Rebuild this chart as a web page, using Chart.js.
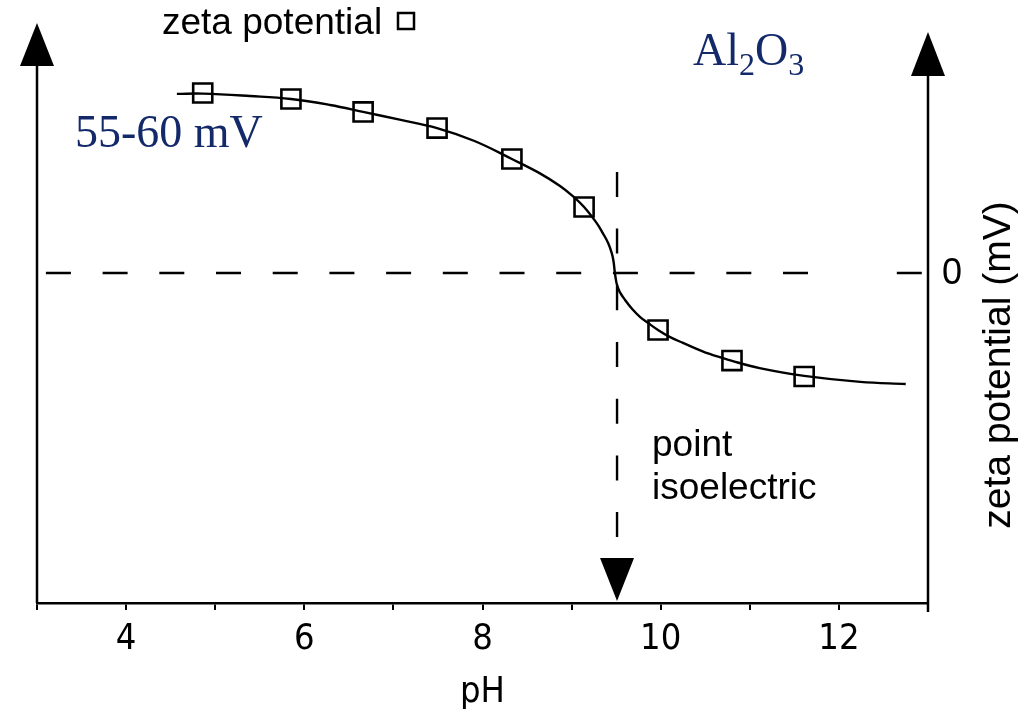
<!DOCTYPE html>
<html><head>
<meta charset="utf-8">
<script src="https://cdn.jsdelivr.net/npm/chart.js@4"></script>
<style>
  html, body { margin: 0; padding: 0; background: #fff; }
  canvas { display: block; }
</style>
</head>
<body>
<canvas id="chart" width="1019" height="714"></canvas>
<script>
// measured points: pH and zeta potential (mV)
const phPoints = [4.86, 5.85, 6.66, 7.49, 8.33, 9.14, 9.97, 10.80, 11.61];
const zetaPoints = [60.0, 58.0, 53.7, 48.3, 38.0, 22.0, -19.0, -29.2, -34.5];

// fitted curve
const curvePh = [4.57, 4.86, 5.39, 5.85, 6.29, 6.66, 7.07, 7.49, 7.91, 8.33, 8.64, 8.87, 9.01, 9.14, 9.28, 9.35, 9.41, 9.45, 9.47, 9.486,
  9.50, 9.51, 9.54, 9.60, 9.68, 9.77, 9.86, 9.97, 10.10, 10.25, 10.55, 10.80, 11.11, 11.61, 12.24, 12.75];
const curveZeta = [59.7, 59.8, 59.0, 58.0, 56.0, 53.7, 51.1, 48.3, 44.0, 38.0, 33.3, 29.0, 25.7, 22.0, 16.7, 13.3, 10.0, 6.7, 4.0, 0.0,
  -2.7, -4.0, -6.3, -9.0, -12.0, -14.7, -16.7, -19.0, -21.3, -23.3, -27.0, -29.3, -31.7, -34.3, -36.3, -37.0];

const xTickLabels = [4, 6, 8, 10, 12];
const yTickLabel = 0;

// dashed guides
const zeroLinePh = [3.1, 11.66, 12.2, 12.65, 12.94];
const zeroLineZeta = [0, 0, null, 0, 0];
const isoPh = 9.51;
const isoLineZeta = [33.7, -95];
const isoArrowTip = -109.3;

const sans = '"Liberation Sans", Arial, sans-serif';
const narrow = '"Liberation Sans Narrow", "DejaVu Sans Condensed", Arial, sans-serif';
const serif = '"Liberation Serif", "Times New Roman", serif';
const navy = '#13296a';

const decor = {
  id: 'decor',
  afterDatasetsDraw(chart) {
    const { ctx, chartArea: a, scales: { x, y } } = chart;
    ctx.save();
    ctx.strokeStyle = '#000';
    ctx.fillStyle = '#000';
    ctx.lineWidth = 2.5;

    function tri(cx, tipY, baseY, half) {
      ctx.beginPath();
      ctx.moveTo(cx, tipY);
      ctx.lineTo(cx - half, baseY);
      ctx.lineTo(cx + half, baseY);
      ctx.closePath();
      ctx.fill();
    }

    // left axis with arrow
    ctx.beginPath();
    ctx.moveTo(a.left, a.bottom);
    ctx.lineTo(a.left, 60);
    ctx.stroke();
    tri(a.left, 23, 66, 17);

    // right axis with arrow
    ctx.beginPath();
    ctx.moveTo(a.right, a.bottom + 9);
    ctx.lineTo(a.right, 70);
    ctx.stroke();
    tri(a.right, 32, 76, 17);

    // isoelectric arrow head
    const ix = x.getPixelForValue(isoPh);
    tri(ix, y.getPixelForValue(isoArrowTip), y.getPixelForValue(isoLineZeta[1]), 17);

    // right axis tick label
    ctx.font = '36px ' + sans;
    ctx.textBaseline = 'middle';
    ctx.textAlign = 'left';
    ctx.fillText(String(yTickLabel), a.right + 14, y.getPixelForValue(yTickLabel) + 1);

    // legend
    ctx.textBaseline = 'alphabetic';
    ctx.font = '37px ' + sans;
    ctx.fillText('zeta potential', 162, 34);
    ctx.lineWidth = 2.5;
    ctx.strokeRect(398, 13, 16, 16);

    // point isoelectric
    ctx.fillText('point', 652, 456);
    ctx.fillText('isoelectric', 652, 499);

    // right axis title
    ctx.save();
    ctx.translate(1010, 365);
    ctx.rotate(-Math.PI / 2);
    ctx.textAlign = 'center';
    ctx.font = '39px ' + sans;
    ctx.fillText('zeta potential (mV)', 0, 0);
    ctx.restore();

    // navy serif notes
    ctx.fillStyle = navy;
    ctx.font = '46px ' + serif;
    ctx.fillText('55-60 mV', 75, 147);

    let px = 693;
    const parts = [['Al', 46, 0], ['2', 32, 10], ['O', 46, 0], ['3', 32, 10]];
    parts.forEach(([t, s, dy]) => {
      ctx.font = s + 'px ' + serif;
      ctx.fillText(t, px, 65 + dy);
      px += ctx.measureText(t).width;
    });

    ctx.restore();
  }
};

const ctx = document.getElementById('chart').getContext('2d');
new Chart(ctx, {
  type: 'scatter',
  data: {
    datasets: [
      {
        label: 'curve',
        type: 'line',
        data: curvePh.map((v, i) => ({ x: v, y: curveZeta[i] })),
        borderColor: '#000',
        borderWidth: 2.4,
        pointRadius: 0,
        tension: 0.4,
        fill: false
      },
      {
        label: 'zeta potential',
        data: phPoints.map((v, i) => ({ x: v, y: zetaPoints[i] })),
        pointStyle: 'rect',
        pointRadius: 13.5,
        borderColor: '#000',
        borderWidth: 2.6,
        backgroundColor: 'rgba(0,0,0,0)',
        showLine: false
      },
      {
        label: 'zero',
        type: 'line',
        data: zeroLinePh.map((v, i) => ({ x: v, y: zeroLineZeta[i] })),
        borderColor: '#000',
        borderWidth: 2.4,
        borderDash: [25, 31.7],
        pointRadius: 0,
        spanGaps: false
      },
      {
        label: 'isoelectric',
        type: 'line',
        data: isoLineZeta.map(v => ({ x: isoPh, y: v })),
        borderColor: '#000',
        borderWidth: 2.4,
        borderDash: [25, 31.7],
        pointRadius: 0
      }
    ]
  },
  options: {
    responsive: false,
    animation: false,
    layout: { padding: { left: 37, top: 23, right: 91, bottom: 0 } },
    plugins: { legend: { display: false }, tooltip: { enabled: false } },
    scales: {
      x: {
        type: 'linear',
        min: 3,
        max: 13,
        ticks: {
          stepSize: 1,
          autoSkip: false,
          maxRotation: 0,
          padding: 8,
          color: '#000',
          font: { family: narrow, size: 36 },
          callback: v => xTickLabels.includes(v) ? String(v) : ''
        },
        grid: { drawOnChartArea: false, drawTicks: true, tickLength: 7, color: '#000', lineWidth: 2 },
        border: { display: true, color: '#000', width: 2.5 },
        title: { display: true, text: 'pH', color: '#000', font: { family: narrow, size: 36 }, padding: { top: 0, bottom: 0 } },
        afterFit: s => { s.height = 111; }
      },
      y: {
        type: 'linear',
        display: false,
        min: -110,
        max: 83.33
      }
    }
  },
  plugins: [decor]
});
</script>
</body></html>
